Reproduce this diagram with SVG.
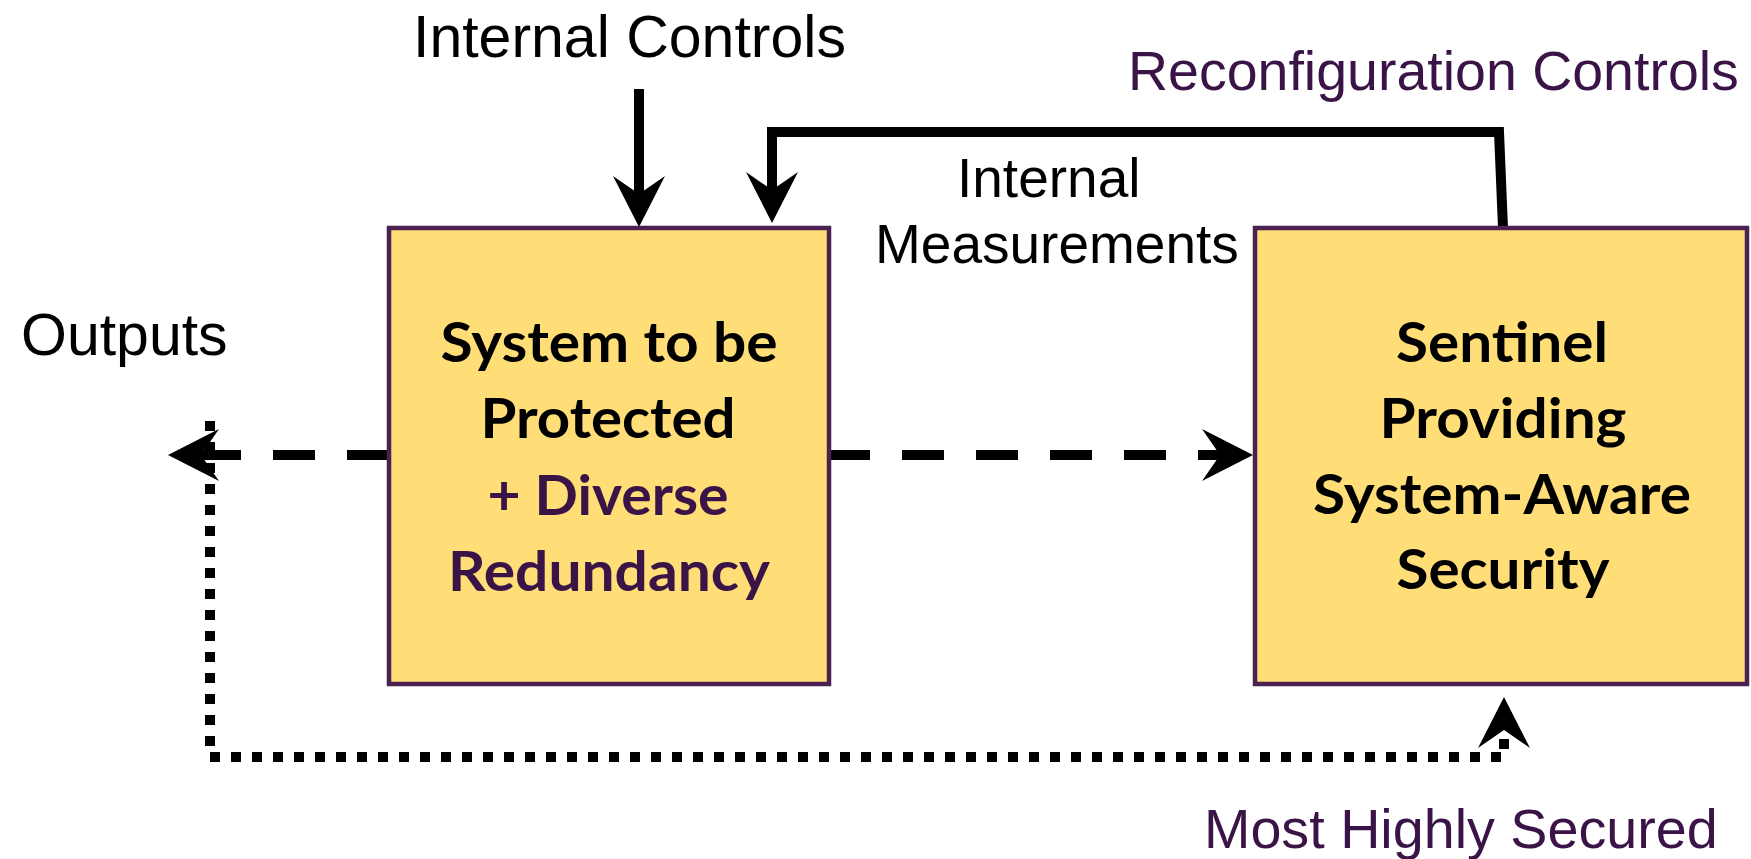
<svg xmlns="http://www.w3.org/2000/svg" width="1751" height="859" viewBox="0 0 1751 859">
  <style>
    .box { fill: #FFDD77; stroke: #4A2150; stroke-width: 4.5; }
    .title { font-family: Lato, "Open Sans", sans-serif; font-weight: 700; font-size: 56px; text-anchor: middle; fill: #000; }
    .accent { fill: #3A1446; }
    .label { font-family: "Liberation Sans", Arial, sans-serif; font-size: 59px; fill: #000; }
    .label.purple { fill: #3A1446; }
    .wire { fill: none; stroke: #000; stroke-width: 10; stroke-linecap: butt; stroke-linejoin: miter; }
    .dashed { stroke-dasharray: 42 32; }
    .dotted { stroke-dasharray: 10 11; }
  </style>
  <defs>
    <!-- notched arrowhead; the path ends at the notch, the tip sits 33px further on -->
    <marker id="head" markerUnits="userSpaceOnUse" viewBox="-56 -30 60 60" markerWidth="60" markerHeight="60" refX="-33" refY="0" orient="auto" overflow="visible">
      <path d="M0,0 L-51,-26 L-33,0 L-51,26 Z" fill="#000"/>
    </marker>
  </defs>

  <rect width="1751" height="859" fill="#fff"/>

  <!-- connectors -->
  <g id="connectors">
    <path class="wire" d="M639,89 L639,194" marker-end="url(#head)"/>
    <path class="wire" d="M1503,228 L1499,132 L772,132 L772,190" marker-end="url(#head)"/>
    <path class="wire dashed" d="M828,455 L1220,455" marker-end="url(#head)"/>
    <path class="wire dashed" d="M389,455 L201,455" marker-end="url(#head)"/>
    <path class="wire dotted" d="M210,421 L210,757 L1504,757 L1504,730" marker-end="url(#head)"/>
  </g>

  <!-- protected system -->
  <g id="system">
    <rect class="box" x="389" y="228" width="440" height="456"/>
    <text class="title" x="609" y="362" textLength="337" lengthAdjust="spacingAndGlyphs">System to be</text>
    <text class="title" x="608" y="438" textLength="255" lengthAdjust="spacingAndGlyphs">Protected</text>
    <text class="title accent" x="608" y="515" textLength="241" lengthAdjust="spacingAndGlyphs">+ Diverse</text>
    <text class="title accent" x="609" y="591" textLength="322" lengthAdjust="spacingAndGlyphs">Redundancy</text>
  </g>

  <!-- sentinel -->
  <g id="sentinel">
    <rect class="box" x="1255" y="228" width="492" height="456"/>
    <text class="title" x="1502" y="362" textLength="212" lengthAdjust="spacingAndGlyphs">Sentinel</text>
    <text class="title" x="1503" y="438" textLength="247" lengthAdjust="spacingAndGlyphs">Providing</text>
    <text class="title" x="1502" y="514" textLength="378" lengthAdjust="spacingAndGlyphs">System-Aware</text>
    <text class="title" x="1503" y="589" textLength="213" lengthAdjust="spacingAndGlyphs">Security</text>
  </g>

  <!-- free labels -->
  <g id="labels">
    <text class="label" x="413" y="57">Internal Controls</text>
    <text class="label purple" x="1128" y="90" style="font-size:55.5px">Reconfiguration Controls</text>
    <text class="label" x="957" y="197" style="font-size:55px">Internal</text>
    <text class="label" x="875" y="263" style="font-size:55px">Measurements</text>
    <text class="label" x="21" y="355">Outputs</text>
    <text class="label purple" x="1204" y="848" style="font-size:55.7px">Most Highly Secured</text>
  </g>
</svg>
